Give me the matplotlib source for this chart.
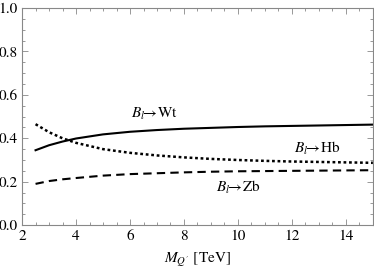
import numpy as np
import matplotlib
matplotlib.use('Agg')
import matplotlib.pyplot as plt
from matplotlib.ticker import MultipleLocator

# branching ratios
mass = [2.5, 3.0, 3.5, 4.0, 5.0, 6.0, 7.0, 8.0, 9.0, 10.0, 11.0, 12.0, 13.0, 14.0, 15.0]
br_wt = [0.345, 0.368, 0.385, 0.399, 0.418, 0.430, 0.438, 0.444, 0.448, 0.452, 0.455, 0.457, 0.459, 0.461, 0.463]
br_hb = [0.465, 0.428, 0.400, 0.379, 0.350, 0.333, 0.321, 0.312, 0.305, 0.300, 0.296, 0.293, 0.291, 0.289, 0.287]
br_zb = [0.190, 0.203, 0.211, 0.217, 0.228, 0.235, 0.239, 0.243, 0.246, 0.248, 0.249, 0.250, 0.251, 0.252, 0.253]

plt.rcParams['font.family'] = ['STIXGeneral', 'DejaVu Serif']
plt.rcParams['mathtext.fontset'] = 'stix'

fig = plt.figure(figsize=(3.74, 2.68), dpi=100)
ax = fig.add_axes([0.059, 0.160, 0.938, 0.810])

ax.plot(mass, br_wt, color='black', lw=1.5, ls='-')
ax.plot(mass, br_hb, color='black', lw=1.8, ls=(0, (1.1, 1.1)))
ax.plot(mass, br_zb, color='black', lw=1.5, ls=(0, (4, 2.5)))

ax.text(6.9, 0.51, r'$B_l\!\!\rightarrow\!$Wt', fontsize=11, ha='center', va='center')
ax.text(12.95, 0.355, r'$B_l\!\!\rightarrow\!$Hb', fontsize=11, ha='center', va='center')
ax.text(10.0, 0.175, r'$B_l\!\!\rightarrow\!$Zb', fontsize=11, ha='center', va='center')

ax.set_xlim(2, 15)
ax.set_ylim(0, 1.0)
ax.xaxis.set_major_locator(MultipleLocator(2))
ax.xaxis.set_minor_locator(MultipleLocator(0.5))
ax.yaxis.set_major_locator(MultipleLocator(0.2))
ax.yaxis.set_minor_locator(MultipleLocator(0.05))
ax.set_yticklabels([f'{v:.1f}' for v in ax.get_yticks()])
ax.tick_params(which='both', direction='in', top=True, right=True, labelsize=11,
               color='#888888', width=0.6)
ax.tick_params(which='major', length=4, pad=3)
ax.tick_params(which='minor', length=2)
for s in ax.spines.values():
    s.set_color('#888888')
    s.set_linewidth(0.8)

ax.set_xlabel(r"$M_{Q'}$ [TeV]", fontsize=11, labelpad=6)

fig.savefig('out.png', dpi=100)
